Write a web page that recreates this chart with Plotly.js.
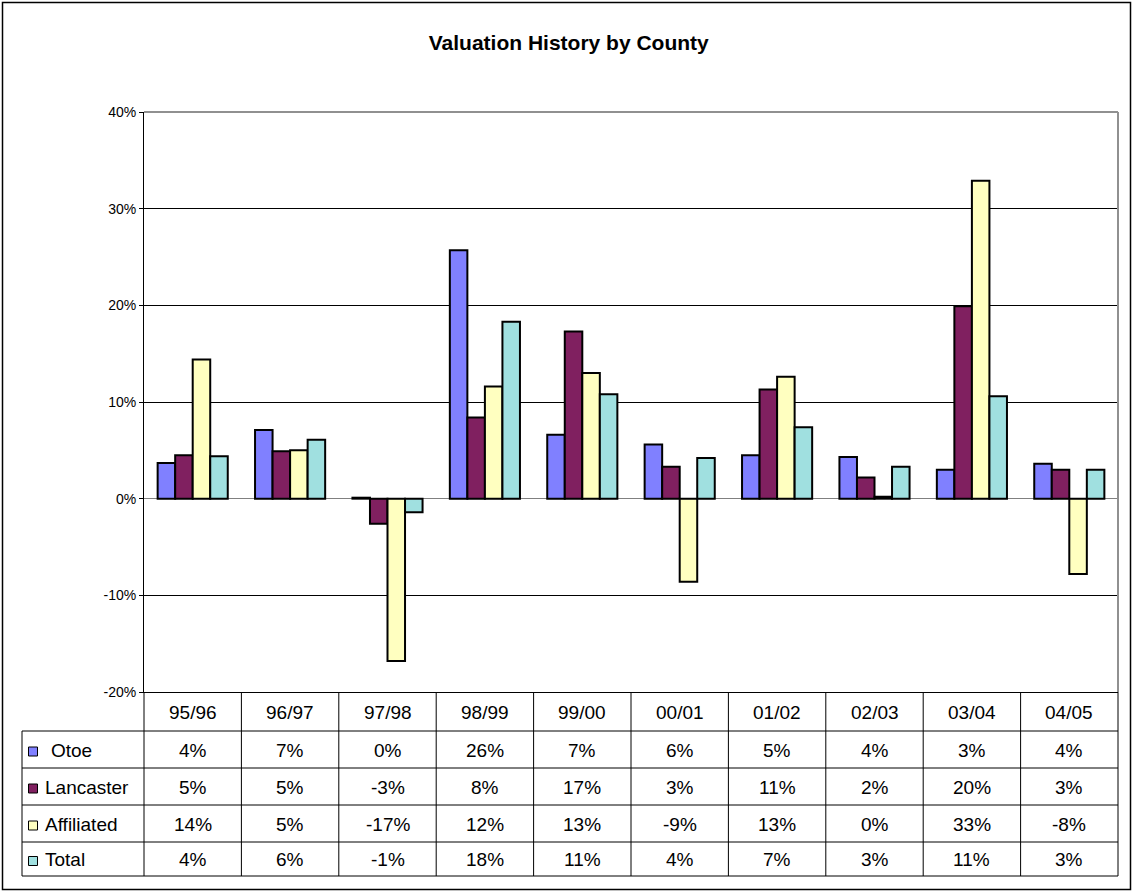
<!DOCTYPE html>
<html>
<head>
<meta charset="utf-8">
<script src="https://cdn.plot.ly/plotly-3.0.1.min.js"></script>
<style>
  html, body { margin: 0; padding: 0; background: #fff; }
  #chart { width: 1133px; height: 893px; }
</style>
</head>
<body>
<div id="chart"></div>
<script>
// ---- Data ----
const categories = ["95/96", "96/97", "97/98", "98/99", "99/00", "00/01", "01/02", "02/03", "03/04", "04/05"];
const otoe       = [3.7, 7.1, 0.1, 25.7, 6.6, 5.6, 4.5, 4.3, 3.0, 3.6];
const lancaster  = [4.5, 4.9, -2.6, 8.4, 17.3, 3.3, 11.3, 2.2, 19.9, 3.0];
const affiliated = [14.4, 5.0, -16.8, 11.6, 13.0, -8.6, 12.6, 0.2, 32.9, -7.8];
const total      = [4.4, 6.1, -1.4, 18.3, 10.8, 4.2, 7.4, 3.3, 10.6, 3.0];
const seriesNames = ["Otoe", "Lancaster", "Affiliated", "Total"];
const yTickVals = [-20, -10, 0, 10, 20, 30, 40];
const yTickText = ["-20%", "-10%", "0%", "10%", "20%", "30%", "40%"];

const seriesValues = [otoe, lancaster, affiliated, total];
const seriesColors = ["#8080FF", "#802060", "#FFFFC0", "#A0E0E0"];

// ---- Geometry (pixels) ----
const W = 1133, H = 893;
const L = 144, R = 1118, T = 112, B = 692;
const PW = R - L, PH = B - T;
const px = x => (x - L) / PW;
const py = y => (B - y) / PH;

const traces = seriesValues.map((vals, i) => ({
  type: "bar",
  name: seriesNames[i],
  x: categories,
  y: vals,
  marker: { color: seriesColors[i], line: { color: "#000", width: 2 } },
  hoverinfo: "x+y+name"
}));

const shapes = [];
const annotations = [];
const lineStyle = { color: "#000", width: 1 };

// outer border
shapes.push({ type: "rect", xref: "paper", yref: "paper", x0: px(2.5), x1: px(1130.5), y0: py(2.5), y1: py(889.5), line: { color: "#000", width: 1.5 }, layer: "above" });
// plot border top/right (gray)
shapes.push({ type: "line", xref: "paper", yref: "paper", x0: 0, x1: 1, y0: 1, y1: 1, line: { color: "#909090", width: 2 }, layer: "above" });
shapes.push({ type: "line", xref: "paper", yref: "paper", x0: 1, x1: 1, y0: 0, y1: 1, line: { color: "#909090", width: 2 }, layer: "above" });

// table grid
const rowLines = [731, 768, 805, 842, 876];
rowLines.forEach(y => shapes.push({ type: "line", xref: "paper", yref: "paper", x0: px(22), x1: 1, y0: py(y), y1: py(y), line: lineStyle }));
for (let i = 0; i <= categories.length; i++) {
  const xp = i / categories.length;
  shapes.push({ type: "line", xref: "paper", yref: "paper", x0: xp, x1: xp, y0: 0, y1: py(876), line: lineStyle });
}
shapes.push({ type: "line", xref: "paper", yref: "paper", x0: px(22), x1: px(22), y0: py(731), y1: py(876), line: lineStyle });

// header labels
const fontTable = { family: "Liberation Sans, Arial, sans-serif", size: 19, color: "#000" };
categories.forEach((c, i) => {
  annotations.push({ xref: "paper", yref: "paper", x: (i + 0.5) / categories.length, y: py(712), text: c, showarrow: false, xanchor: "center", yanchor: "middle", font: fontTable });
});
const rowCenters = [750, 787, 824, 859.5];
const fmt = v => Math.round(v) + "%";
seriesValues.forEach((vals, r) => {
  vals.forEach((v, i) => {
    annotations.push({ xref: "paper", yref: "paper", x: (i + 0.5) / categories.length, y: py(rowCenters[r]), text: fmt(v), showarrow: false, xanchor: "center", yanchor: "middle", font: fontTable });
  });
  // swatch
  shapes.push({ type: "rect", xref: "paper", yref: "paper", x0: px(28.5), x1: px(37.5), y0: py(rowCenters[r] - 3), y1: py(rowCenters[r] + 6), fillcolor: seriesColors[r], line: { color: "#000", width: 1 } });
  annotations.push({ xref: "paper", yref: "paper", x: px(r === 0 ? 49 : 43), y: py(rowCenters[r]), text: seriesNames[r], showarrow: false, xanchor: "left", yanchor: "middle", font: fontTable });
});

const layout = {
  width: W, height: H,
  margin: { l: L, r: W - R, t: T, b: H - B, pad: 0 },
  paper_bgcolor: "#fff",
  plot_bgcolor: "#fff",
  title: { text: "<b>Valuation History by County</b>", x: 0.502, xref: "container", xanchor: "center", y: 1 - 43 / H, yanchor: "middle", font: { family: "Liberation Sans, Arial, sans-serif", size: 21, color: "#000" } },
  barmode: "group",
  bargap: 0.28,
  bargroupgap: 0,
  showlegend: false,
  xaxis: {
    type: "category",
    range: [-0.5, 9.5],
    showticklabels: false,
    ticks: "",
    showgrid: false,
    showline: true, linecolor: "#000", linewidth: 1,
    zeroline: false,
    fixedrange: true
  },
  yaxis: {
    range: [-20, 40],
    tickvals: yTickVals,
    ticktext: yTickText,
    ticks: "outside", ticklen: 4, tickcolor: "#000", tickwidth: 1,
    showgrid: true, gridcolor: "#000", gridwidth: 1,
    zeroline: true, zerolinecolor: "#808080", zerolinewidth: 1.5,
    showline: true, linecolor: "#000", linewidth: 1,
    tickfont: { family: "Liberation Sans, Arial, sans-serif", size: 14, color: "#000" },
    fixedrange: true
  },
  shapes: shapes,
  annotations: annotations
};

Plotly.newPlot("chart", traces, layout, { displayModeBar: false, staticPlot: true });
</script>
</body>
</html>
